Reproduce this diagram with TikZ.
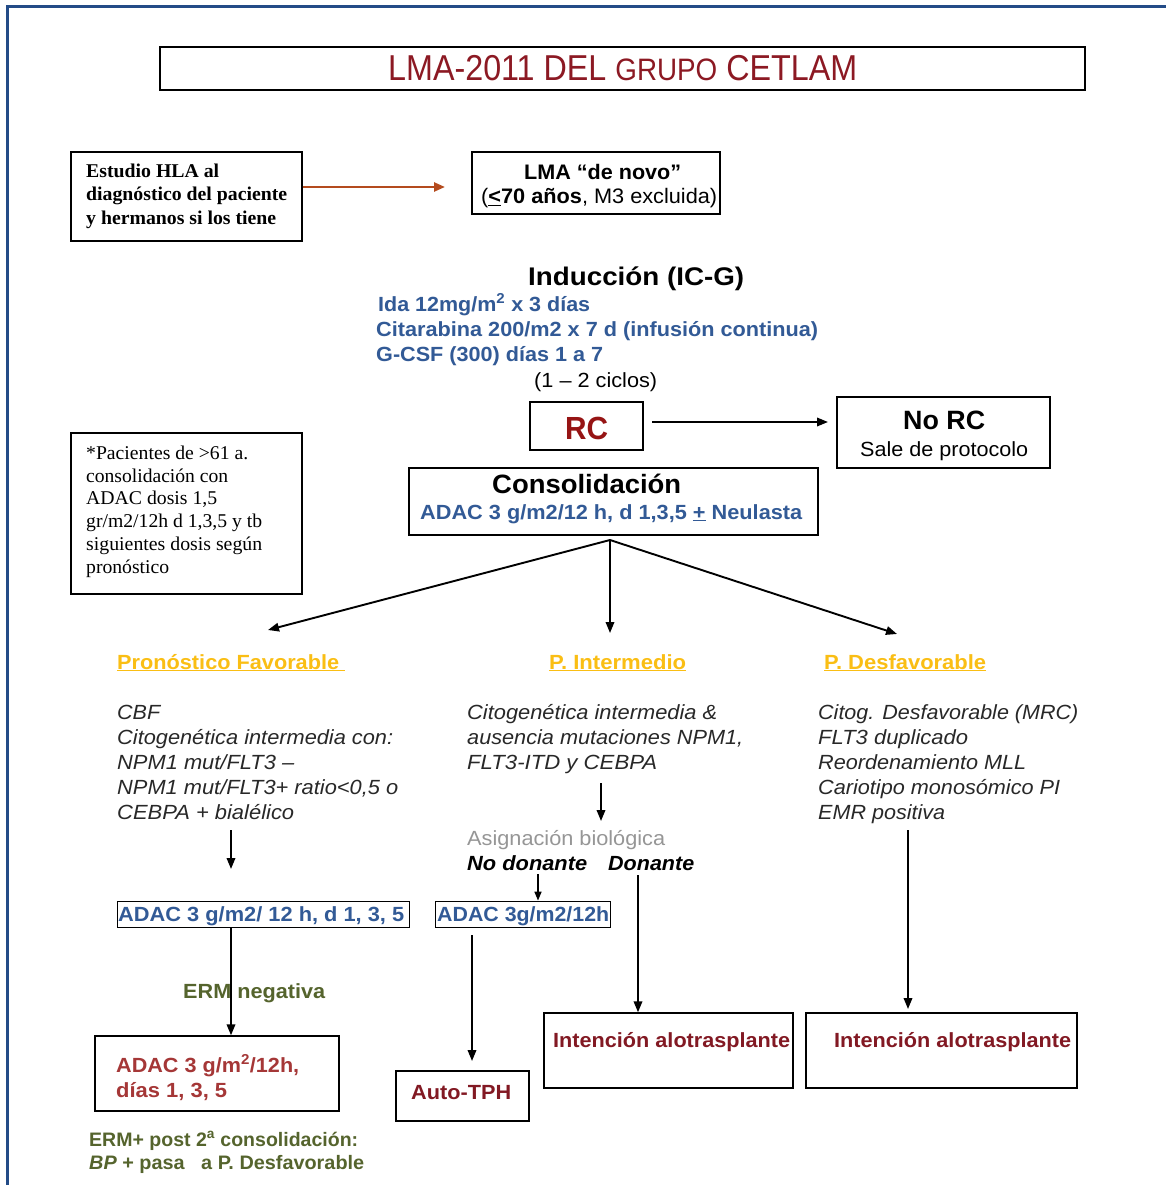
\documentclass[tikz,border=0pt]{standalone}
\usepackage{fontspec}
\usepackage{graphicx}
\setmainfont{Liberation Sans}
\newfontfamily\serifF{Liberation Serif}
\usetikzlibrary{arrows.meta}
\newcommand\fitw[2]{\resizebox{#1pt}{\height}{#2}}
\newcommand\fsz[1]{\fontsize{#1}{#1}\selectfont}
\definecolor{framec}{RGB}{35,75,135}
\definecolor{titred}{RGB}{140,25,35}
\definecolor{rcred}{RGB}{150,20,20}
\definecolor{intred}{RGB}{130,25,35}
\definecolor{adred}{RGB}{165,55,55}
\definecolor{bluet}{RGB}{50,90,150}
\definecolor{yel}{RGB}{250,190,20}
\definecolor{grn}{RGB}{85,100,45}
\definecolor{grayt}{RGB}{150,150,150}
\definecolor{hlaarr}{RGB}{180,75,30}
\definecolor{listc}{RGB}{40,40,40}
\begin{document}
\begin{tikzpicture}[x=1pt,y=-1pt,
  txt/.style={inner sep=0pt, anchor=base west},
  box/.style={draw, line width=1.4pt, inner sep=0pt},
  thinbox/.style={draw, line width=0.8pt, inner sep=0pt},
  arr/.style={-{Triangle[length=11pt,width=8.5pt]}, line width=1.9pt},
  lst/.style={txt, font=\fsz{20.5}\itshape, text=listc},
  head/.style={txt, font=\fsz{20.5}\bfseries, text=yel}]
\useasboundingbox (0,0) rectangle (1166,1185);
\fill[white] (0,0) rectangle (1166,1185);
% frame
\draw[framec, line width=3pt] (7,1185) -- (7,7) -- (1166,7);

% title
\node[box, minimum width=925, minimum height=43] (title) at (622.5,68.5) {};
\node[txt, text=titred] (titt) at (388,81) {\fitw{469}{\fsz{36}LMA-2011 DEL {\fsz{31}GRUPO} CETLAM}};

% HLA box
\node[box, minimum width=231, minimum height=89] (hla) at (186.5,196.5) {};
\node[txt, font=\serifF\fsz{19.5}\bfseries] (hla1) at (86,178) {\fitw{133}{Estudio HLA al}};
\node[txt, font=\serifF\fsz{19.5}\bfseries] (hla2) at (86,201) {\fitw{201}{diagnóstico del paciente}};
\node[txt, font=\serifF\fsz{19.5}\bfseries] (hla3) at (86,224) {\fitw{190}{y hermanos si los tiene}};

% LMA box
\node[box, minimum width=248, minimum height=62] (lma) at (596,183) {};
\node[txt, font=\fsz{21}\bfseries] (lma1) at (524,179) {\fitw{157}{LMA “de novo”}};
\node[txt, font=\fsz{21}] (lma2) at (481,204) {\fitw{236}{(\textbf{\underline{<}70 años}, M3 excluida)}};
\coordinate (hlaend) at (445,187);
\draw[-{Triangle[length=11pt,width=9pt]}, line width=2.4pt, hlaarr] (hla.east |- hlaend) -- (hlaend);

% Induccion
\node[txt, font=\fsz{25.5}\bfseries] (ind) at (528,285) {\fitw{216}{Inducción (IC-G)}};
\node[txt, font=\fsz{20.5}\bfseries, text=bluet] (ind1) at (378,311) {\fitw{212}{Ida 12mg/m\textsuperscript{2} x 3 días}};
\node[txt, font=\fsz{20.5}\bfseries, text=bluet] (ind2) at (376,336) {\fitw{442}{Citarabina 200/m2 x 7 d (infusión continua)}};
\node[txt, font=\fsz{20.5}\bfseries, text=bluet] (ind3) at (376,361) {\fitw{227}{G-CSF (300) días 1 a 7}};
\node[txt, font=\fsz{20.5}] (cic) at (534,387) {\fitw{123}{(1 – 2 ciclos)}};

% RC
\node[box, minimum width=113, minimum height=48] (rc) at (586.5,426) {};
\node[txt, font=\fsz{32}\bfseries, text=rcred] (rct) at (565,439) {\fitw{43}{RC}};
\node[box, minimum width=213, minimum height=71] (norc) at (943.5,432.5) {};
\node[txt, font=\fsz{26.5}\bfseries] (norc1) at (903,429) {\fitw{82}{No RC}};
\node[txt, font=\fsz{20.5}] (norc2) at (860,456) {\fitw{168}{Sale de protocolo}};
\coordinate (rcend) at (828,422);
\draw[arr] (652,422) -- (rcend);

% Consolidacion
\node[box, minimum width=409, minimum height=67] (cons) at (613.5,501.5) {};
\node[txt, font=\fsz{26.5}\bfseries] (cons1) at (492,493) {\fitw{189}{Consolidación}};
\node[txt, font=\fsz{20.5}\bfseries, text=bluet] (cons2) at (420,519) {\fitw{382}{ADAC 3 g/m2/12 h, d 1,3,5 \underline{+} Neulasta}};

% Note box
\node[box, minimum width=231, minimum height=161] (note) at (186.5,513.5) {};
\node[txt, font=\serifF\fsz{19.5}] (n1) at (86,459) {\fitw{162}{*Pacientes de >61 a.}};
\node[txt, font=\serifF\fsz{19.5}] (n2) at (86,482) {\fitw{142}{consolidación con}};
\node[txt, font=\serifF\fsz{19.5}] (n3) at (86,504) {\fitw{131}{ADAC dosis 1,5}};
\node[txt, font=\serifF\fsz{19.5}] (n4) at (86,527) {\fitw{176}{gr/m2/12h d 1,3,5 y tb}};
\node[txt, font=\serifF\fsz{19.5}] (n5) at (86,550) {\fitw{176}{siguientes dosis según}};
\node[txt, font=\serifF\fsz{19.5}] (n6) at (86,573) {\fitw{83}{pronóstico}};

% branch arrows
\coordinate (cb) at (610,540);
\coordinate (bl) at (268,630);
\coordinate (bm) at (610,633);
\coordinate (br) at (897,634);
\draw[arr] (cb) -- (bl);
\draw[arr] (cb) -- (bm);
\draw[arr] (cb) -- (br);

% headings
\node[head] (h1) at (117,669) {\fitw{228}{\underline{Pronóstico Favorable\ }}};
\node[head] (h2) at (549,669) {\fitw{137}{\underline{P. Intermedio}}};
\node[head] (h3) at (824,669) {\fitw{162}{\underline{P. Desfavorable}}};

% left list
\node[lst] (l1) at (117,719) {\fitw{43}{CBF}};
\node[lst] (l2) at (117,744) {\fitw{276}{Citogenética intermedia con:}};
\node[lst] (l3) at (117,769) {\fitw{177}{NPM1 mut/FLT3 –}};
\node[lst] (l4) at (117,794) {\fitw{281}{NPM1 mut/FLT3+ ratio<0,5 o}};
\node[lst] (l5) at (117,819) {\fitw{177}{CEBPA + bialélico}};
% middle list
\node[lst] (m1) at (467,719) {\fitw{250}{Citogenética intermedia \&}};
\node[lst] (m2) at (467,744) {\fitw{276}{ausencia mutaciones NPM1,}};
\node[lst] (m3) at (467,769) {\fitw{190}{FLT3-ITD y CEBPA}};
% right list
\node[lst] (r1) at (818,719) {\fitw{260}{Citog. Desfavorable (MRC)}};
\node[lst] (r2) at (818,744) {\fitw{150}{FLT3 duplicado}};
\node[lst] (r3) at (818,769) {\fitw{208}{Reordenamiento MLL}};
\node[lst] (r4) at (818,794) {\fitw{242}{Cariotipo monosómico PI}};
\node[lst] (r5) at (818,819) {\fitw{127}{EMR positiva}};

% middle branch
\draw[arr] (601,783) -- (601,821);
\node[txt, font=\fsz{20.5}, text=grayt] (asig) at (467,845) {\fitw{198}{Asignación biológica}};
\node[txt, font=\fsz{20.5}\bfseries\itshape] (nod) at (467,870) {\fitw{120}{No donante}};
\node[txt, font=\fsz{20.5}\bfseries\itshape] (don) at (608,870) {\fitw{86}{Donante}};

% ADAC small boxes
\node[thinbox, minimum width=292, minimum height=26] (ad1) at (263,914) {};
\node[txt, font=\fsz{20.5}\bfseries, text=bluet] (ad1t) at (118,921) {\fitw{286}{ADAC 3 g/m2/ 12 h, d 1, 3, 5}};
\node[thinbox, minimum width=175, minimum height=26] (ad2) at (522.5,914) {};
\node[txt, font=\fsz{20.5}\bfseries, text=bluet] (ad2t) at (437,921) {\fitw{172}{ADAC 3g/m2/12h}};
\draw[-{Triangle[length=9pt,width=7pt]}, line width=1.6pt] (538,874) -- (ad2.north -| 538,0);

% final boxes
\node[box, minimum width=244, minimum height=75] (adf) at (217,1073.5) {};
\node[txt, font=\fsz{20.5}\bfseries, text=adred] (adf1) at (116,1072) {\fitw{183}{ADAC 3 g/m\textsuperscript{2}/12h,}};
\node[txt, font=\fsz{20.5}\bfseries, text=adred] (adf2) at (116,1097) {\fitw{111}{días 1, 3, 5}};

\node[box, minimum width=133, minimum height=50] (auto) at (462.5,1096) {};
\node[txt, font=\fsz{20.5}\bfseries, text=intred] (autot) at (411,1099) {\fitw{100}{Auto-TPH}};

\node[box, minimum width=249, minimum height=75] (int1) at (668.5,1050.5) {};
\node[txt, font=\fsz{20.5}\bfseries, text=intred] (int1t) at (553,1047) {\fitw{237}{Intención alotrasplante}};
\node[box, minimum width=271, minimum height=75] (int2) at (941.5,1050.5) {};
\node[txt, font=\fsz{20.5}\bfseries, text=intred] (int2t) at (834,1047) {\fitw{237}{Intención alotrasplante}};

% vertical arrows
\draw[arr] (231,830) -- (231,869);
\draw[arr] (ad1.south -| 231,0) -- (adf.north -| 231,0);
\coordinate (autoend) at (472,1061);
\draw[arr] (472,935) -- (autoend);
\draw[arr] (638,875) -- (int1.north -| 638,0);
\draw[arr] (908,830) -- (908,1009);

\node[txt, font=\fsz{20.5}\bfseries, text=grn] (erm) at (183,998) {\fitw{142}{ERM negativa}};

% bottom note
\node[txt, font=\fsz{19.5}\bfseries, text=grn] (b1) at (89,1146) {\fitw{269}{ERM+ post 2\textsuperscript{a} consolidación:}};
\node[txt, font=\fsz{19.5}\bfseries, text=grn] (b2) at (89,1169) {\fitw{275}{\textit{BP} + pasa \ \ a P. Desfavorable}};
\end{tikzpicture}
\end{document}
